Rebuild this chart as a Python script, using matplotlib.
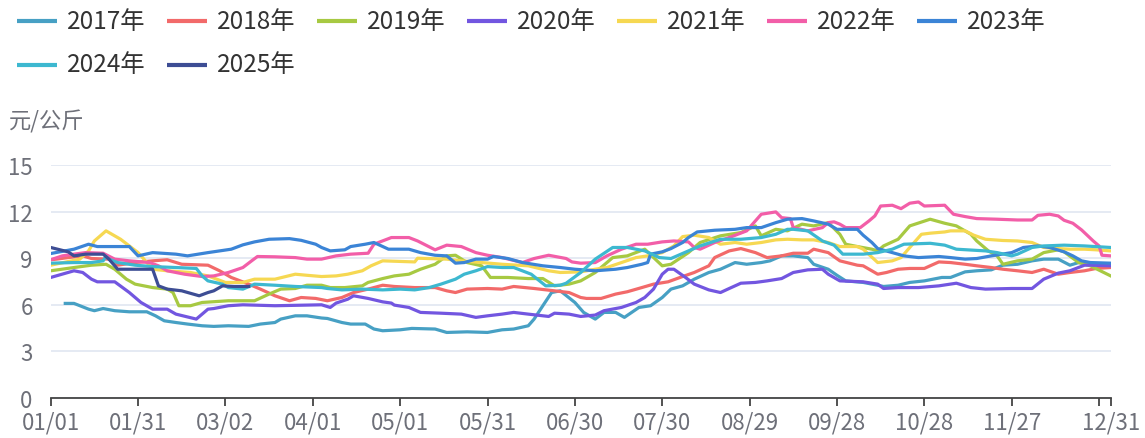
import matplotlib
matplotlib.use("Agg")
import matplotlib.pyplot as plt
from matplotlib.lines import Line2D

plt.rcParams['font.family'] = ['Noto Sans CJK SC', 'DejaVu Sans']

# day of year (0 = 01/01) and price in 元/公斤 for each year
d2017 = [5, 8, 13, 15, 18, 22, 27, 33, 36, 39, 43, 47, 52, 56, 61, 68, 72, 77, 79, 84, 88, 93, 95, 100, 103, 108, 111, 114, 120, 124,
         132, 136, 143, 150, 155, 159, 164, 166, 169, 172, 175, 180, 183, 187, 190, 194, 197, 202, 206, 210, 213, 217, 221, 226, 230,
         235, 239, 244, 247, 251, 255, 260, 262, 267, 270, 273, 279, 284, 286, 291, 295, 300, 306, 309, 314, 318, 323, 327, 332, 337,
         341, 346, 350, 353, 357, 364]
v2017 = [6.09, 6.09, 5.72, 5.62, 5.76, 5.62, 5.55, 5.55, 5.29, 4.97, 4.86, 4.76, 4.65, 4.61, 4.65, 4.61, 4.76, 4.86, 5.08, 5.29, 5.29, 5.15, 5.12, 4.86, 4.76, 4.76, 4.44, 4.33, 4.39, 4.48,
         4.44, 4.22, 4.26, 4.22, 4.39, 4.44, 4.65, 5.08, 5.94, 6.79, 6.9, 6.15, 5.51, 5.08, 5.51, 5.51, 5.19, 5.83, 5.94, 6.47, 7.01, 7.22, 7.65, 8.08, 8.29,
         8.72, 8.61, 8.72, 8.83, 9.15, 9.15, 9.04, 8.61, 8.29, 7.9, 7.54, 7.44, 7.26, 7.18, 7.26, 7.44, 7.54, 7.76, 7.76, 8.12, 8.19, 8.25, 8.55, 8.61, 8.83,
         8.94, 8.94, 8.55, 8.72, 8.68, 8.55]

d2018 = [0, 2, 6, 11, 14, 20, 23, 29, 35, 40, 45, 54, 58, 62, 68, 72, 77, 82, 86, 91, 95, 100, 104, 109, 114, 118, 125, 132, 136, 139,
         143, 150, 155, 159, 166, 173, 178, 182, 184, 189, 194, 198, 203, 207, 212, 217, 221, 226, 228, 233, 237, 242, 246, 251, 255,
         260, 262, 267, 271, 277, 279, 284, 287, 291, 295, 300, 302, 305, 309, 314, 318, 323, 327, 332, 337, 341, 346, 350, 355, 359, 364]
v2018 = [8.9, 8.94, 9.04, 9.15, 8.98, 8.94, 8.55, 8.72, 8.83, 8.9, 8.61, 8.55, 8.19, 7.76, 7.33, 7.01, 6.58, 6.26, 6.47, 6.41, 6.26, 6.47, 6.79, 7.01, 7.26, 7.18, 7.11, 7.11, 6.9, 6.79,
         7.01, 7.05, 7.01, 7.18, 7.05, 6.9, 6.79, 6.47, 6.41, 6.41, 6.69, 6.84, 7.11, 7.33, 7.48, 7.82, 8.08, 8.51, 9.04, 9.47, 9.62, 9.36, 9.04, 9.15, 9.32,
         9.32, 9.58, 9.36, 8.83, 8.55, 8.51, 7.97, 8.08, 8.29, 8.34, 8.34, 8.51, 8.76, 8.72, 8.61, 8.51, 8.4, 8.29, 8.19, 8.08, 8.29, 7.97, 8.08, 8.19, 8.34, 8.4]

d2019 = [0, 8, 14, 19, 22, 26, 29, 35, 40, 42, 44, 48, 52, 61, 70, 75, 79, 84, 88, 93, 96, 101, 107, 109, 114, 118, 123, 127, 132, 136,
         139, 143, 148, 151, 157, 164, 169, 173, 178, 182, 187, 193, 198, 204, 210, 213, 219, 223, 230, 237, 242, 244, 249, 253, 258,
         262, 267, 271, 273, 277, 282, 284, 286, 291, 295, 302, 307, 311, 316, 318, 322, 325, 327, 332, 337, 341, 346, 348, 353, 357, 364]
v2019 = [8.19, 8.4, 8.55, 8.61, 8.29, 7.65, 7.33, 7.11, 7.01, 6.79, 5.94, 5.94, 6.15, 6.26, 6.26, 6.69, 7.01, 7.05, 7.26, 7.26, 7.11, 7.11, 7.22, 7.44, 7.69, 7.86, 7.97, 8.29, 8.61, 9.15,
         9.19, 8.72, 8.51, 7.76, 7.76, 7.69, 7.69, 7.22, 7.33, 7.54, 8.08, 9.04, 9.15, 9.58, 8.51, 8.61, 9.36, 10.01, 10.44, 10.65, 11.08, 10.44, 10.86, 10.76, 11.19,
         11.08, 11.29, 10.54, 9.9, 9.75, 9.58, 9.47, 9.79, 10.22, 11.08, 11.51, 11.25, 11.08, 10.54, 10.11, 9.47, 9.15, 8.61, 8.83, 8.94, 9.36, 9.54, 9.41, 8.72, 8.51, 7.86]

d2020 = [0, 8, 11, 14, 16, 22, 27, 31, 35, 40, 43, 50, 54, 56, 61, 66, 77, 93, 96, 98, 102, 104, 109, 114, 117, 118, 123, 127, 134, 141,
         146, 150, 155, 159, 164, 171, 173, 178, 182, 187, 190, 196, 201, 204, 207, 210, 212, 214, 218, 221, 226, 230, 233, 237, 242,
         246, 251, 255, 260, 265, 267, 271, 279, 284, 286, 291, 298, 305, 311, 316, 321, 330, 337, 341, 346, 350, 355, 357, 364]
v2020 = [7.76, 8.19, 8.08, 7.65, 7.48, 7.48, 6.79, 6.15, 5.72, 5.72, 5.4, 5.08, 5.72, 5.76, 5.94, 6.0, 5.94, 6.0, 5.83, 6.11, 6.36, 6.58, 6.41, 6.19, 6.11, 5.98, 5.83, 5.51, 5.46, 5.4,
         5.19, 5.29, 5.4, 5.51, 5.4, 5.25, 5.46, 5.4, 5.25, 5.34, 5.62, 5.83, 6.15, 6.47, 7.01, 7.97, 8.29, 8.29, 7.76, 7.33, 6.96, 6.79, 7.05, 7.39, 7.44,
         7.54, 7.69, 8.08, 8.25, 8.29, 7.97, 7.54, 7.48, 7.33, 7.05, 7.11, 7.11, 7.22, 7.39, 7.11, 7.01, 7.05, 7.05, 7.65, 8.04, 8.19, 8.55, 8.55, 8.51]

d2021 = [0, 10, 13, 15, 19, 24, 27, 30, 32, 35, 40, 48, 54, 60, 66, 70, 77, 84, 88, 93, 98, 102, 107, 110, 114, 125, 126, 136, 141, 148,
         155, 164, 171, 175, 182, 187, 191, 196, 201, 205, 210, 214, 217, 221, 226, 230, 235, 239, 244, 249, 253, 258, 262, 267, 271,
         277, 279, 284, 289, 292, 295, 299, 302, 307, 309, 314, 317, 321, 327, 332, 337, 341, 346, 350, 355, 359, 364]
v2021 = [8.55, 8.94, 9.47, 10.11, 10.76, 10.22, 9.79, 9.36, 8.94, 8.29, 8.19, 8.08, 7.86, 7.44, 7.44, 7.65, 7.65, 7.97, 7.9, 7.82, 7.86, 7.97, 8.19, 8.51, 8.83, 8.76, 9.0, 8.94, 8.83, 8.72,
         8.61, 8.51, 8.19, 8.08, 8.12, 8.29, 8.4, 8.72, 9.04, 9.15, 9.36, 9.79, 10.39, 10.48, 10.33, 9.9, 10.01, 9.9, 10.01, 10.18, 10.22, 10.18, 10.18, 10.01, 9.75,
         9.75, 9.58, 8.72, 8.83, 9.04, 9.69, 10.54, 10.61, 10.69, 10.76, 10.76, 10.48, 10.22, 10.14, 10.11, 10.01, 9.69, 9.62, 9.58, 9.58, 9.54, 9.47]

d2022 = [0, 4, 8, 12, 18, 22, 27, 34, 37, 40, 46, 52, 56, 61, 66, 69, 71, 77, 84, 88, 93, 98, 103, 109, 111, 117, 123, 126, 132, 136,
         141, 146, 150, 155, 162, 166, 171, 177, 179, 182, 187, 191, 196, 201, 205, 210, 214, 219, 221, 223, 228, 233, 239, 244, 249,
         251, 254, 255, 260, 265, 267, 269, 271, 273, 278, 281, 283, 285, 289, 292, 295, 298, 300, 307, 310, 314, 318, 325, 332, 337,
         339, 343, 346, 348, 351, 354, 358, 360, 361, 364]
v2022 = [8.9, 9.15, 9.26, 9.36, 9.32, 8.94, 8.83, 8.72, 8.51, 8.19, 7.97, 7.82, 7.86, 8.08, 8.4, 8.83, 9.11, 9.09, 9.04, 8.94, 8.94, 9.15, 9.26, 9.32, 9.9, 10.33, 10.33, 10.11, 9.54, 9.84,
         9.75, 9.36, 9.19, 9.04, 8.72, 8.98, 9.19, 8.98, 8.76, 8.68, 8.72, 9.15, 9.58, 9.9, 9.9, 10.05, 10.11, 10.05, 9.69, 9.58, 10.01, 10.33, 10.76, 11.83, 11.98,
         11.61, 11.55, 10.97, 10.76, 10.97, 11.29, 11.34, 11.19, 10.97, 10.97, 11.4, 11.72, 12.36, 12.41, 12.19, 12.54, 12.62, 12.36, 12.41, 11.83, 11.68, 11.55, 11.51, 11.46, 11.46,
         11.76, 11.83, 11.72, 11.44, 11.25, 10.82, 10.11, 9.79, 9.19, 9.15]

d2023 = [0, 8, 13, 16, 27, 30, 35, 43, 47, 54, 62, 66, 70, 75, 82, 86, 91, 93, 96, 101, 103, 108, 111, 116, 123, 127, 132, 136, 139, 142,
         146, 150, 152, 157, 162, 169, 175, 180, 187, 194, 198, 203, 205, 206, 210, 213, 217, 219, 222, 228, 235, 239, 244, 249, 253,
         258, 262, 267, 270, 277, 279, 282, 284, 289, 293, 298, 305, 309, 314, 318, 323, 330, 334, 339, 343, 348, 351, 354, 357, 364]
v2023 = [9.3, 9.58, 9.9, 9.75, 9.75, 9.15, 9.36, 9.26, 9.15, 9.36, 9.58, 9.86, 10.05, 10.22, 10.26, 10.15, 9.9, 9.69, 9.47, 9.54, 9.75, 9.9, 10.01, 9.58, 9.58, 9.36, 9.19, 9.15, 8.68, 8.72,
         8.94, 8.94, 9.11, 8.98, 8.72, 8.51, 8.4, 8.29, 8.19, 8.29, 8.4, 8.61, 8.72, 9.26, 9.41, 9.62, 10.01, 10.33, 10.69, 10.8, 10.86, 10.97, 10.97, 11.29, 11.51,
         11.55, 11.4, 11.19, 10.86, 10.86, 10.48, 10.01, 9.62, 9.36, 9.15, 9.04, 9.11, 9.04, 8.94, 8.98, 9.15, 9.36, 9.69, 9.79, 9.69, 9.41, 9.15, 8.83, 8.72, 8.68]

d2024 = [0, 8, 14, 18, 19, 20, 23, 29, 35, 43, 50, 52, 54, 59, 61, 66, 70, 77, 84, 93, 95, 100, 107, 114, 120, 125, 130, 134, 139, 142,
         146, 150, 155, 159, 165, 170, 175, 177, 182, 187, 193, 198, 204, 209, 213, 219, 223, 230, 237, 244, 249, 253, 255, 260, 265,
         269, 272, 279, 284, 289, 293, 302, 307, 311, 321, 325, 330, 332, 337, 341, 348, 355, 364]
v2024 = [8.68, 8.72, 8.72, 8.83, 9.11, 8.94, 8.72, 8.55, 8.46, 8.4, 8.34, 7.86, 7.54, 7.33, 7.11, 7.01, 7.33, 7.26, 7.18, 7.11, 7.05, 6.96, 7.01, 6.96, 7.01, 6.96, 7.11, 7.33, 7.65, 7.97,
         8.19, 8.46, 8.4, 8.4, 7.97, 7.22, 7.26, 7.39, 8.08, 8.94, 9.69, 9.69, 9.47, 9.04, 8.98, 9.47, 9.79, 10.22, 10.22, 10.33, 10.54, 10.86, 10.86, 10.76, 10.11,
         9.84, 9.26, 9.26, 9.36, 9.58, 9.9, 9.96, 9.84, 9.58, 9.47, 9.36, 9.15, 9.26, 9.69, 9.79, 9.84, 9.79, 9.69]

d2025 = [0, 6, 8, 12, 18, 20, 23, 29, 35, 37, 40, 45, 51, 54, 56, 59, 63, 68]
v2025 = [9.69, 9.41, 9.15, 9.26, 9.26, 8.94, 8.29, 8.29, 8.29, 7.22, 7.01, 6.9, 6.58, 6.79, 6.9, 7.22, 7.18, 7.18]

years = ['2017', '2018', '2019', '2020', '2021', '2022', '2023', '2024', '2025']
days = [d2017, d2018, d2019, d2020, d2021, d2022, d2023, d2024, d2025]
prices = [v2017, v2018, v2019, v2020, v2021, v2022, v2023, v2024, v2025]
colors = ['#47a0c4', '#f26a6a', '#a7c942', '#7256e0', '#f6d852', '#f25ea8', '#3b84d6', '#3db8d0', '#3d4d94']

tick_days = [0, 30, 60, 90, 120, 150, 180, 210, 240, 270, 300, 330, 360, 364]
tick_labels = ['01/01', '01/31', '03/02', '04/01', '05/01', '05/31', '06/30', '07/30',
               '08/29', '09/28', '10/28', '11/27', '', '12/31']

W, H = 1145, 439
fig = plt.figure(figsize=(W / 100, H / 100), dpi=100)
ax = fig.add_axes([50.7 / W, (H - 399) / H, (1110.7 - 50.7) / W, (399 - 166) / H])

for d, v, c in zip(days, prices, colors):
    ax.plot(d, v, color=c, lw=2.3, solid_joinstyle='round')

ax.set_xlim(0, 364)
ax.set_ylim(0, 15)
ax.set_yticks([0, 3, 6, 9, 12, 15])
ax.set_xticks(tick_days)
ax.set_xticklabels(tick_labels)
ax.grid(axis='y', color='#e0e6f1', lw=1.2)
ax.set_axisbelow(True)
for s in ['top', 'right', 'left']:
    ax.spines[s].set_visible(False)
ax.spines['bottom'].set_color('#444444')
ax.spines['bottom'].set_linewidth(1.3)
ax.tick_params(axis='y', length=0, pad=13, labelsize=16, labelcolor='#6e7079')
ax.tick_params(axis='x', length=6, width=1.3, color='#444444', pad=3, labelsize=16, labelcolor='#6e7079')
for lab in ax.get_yticklabels():
    lab.set_verticalalignment('center_baseline')

# legend drawn by hand, two rows of seven
for i, (y, c) in enumerate(zip(years, colors)):
    row, col = divmod(i, 7)
    x0 = 17 + col * 150
    yy = 1 - (22 + row * 43.5) / H
    fig.add_artist(Line2D([x0 / W, (x0 + 40) / W], [yy, yy], color=c, lw=3,
                          solid_capstyle='butt', transform=fig.transFigure))
    fig.text((x0 + 50) / W, yy, y + '年', fontsize=17.5, color='#333333', va='center', ha='left')

fig.text(9 / W, 1 - 122 / H, '元/公斤', fontsize=16, color='#6e7079', va='center', ha='left')

fig.savefig('out.png', dpi=100)
